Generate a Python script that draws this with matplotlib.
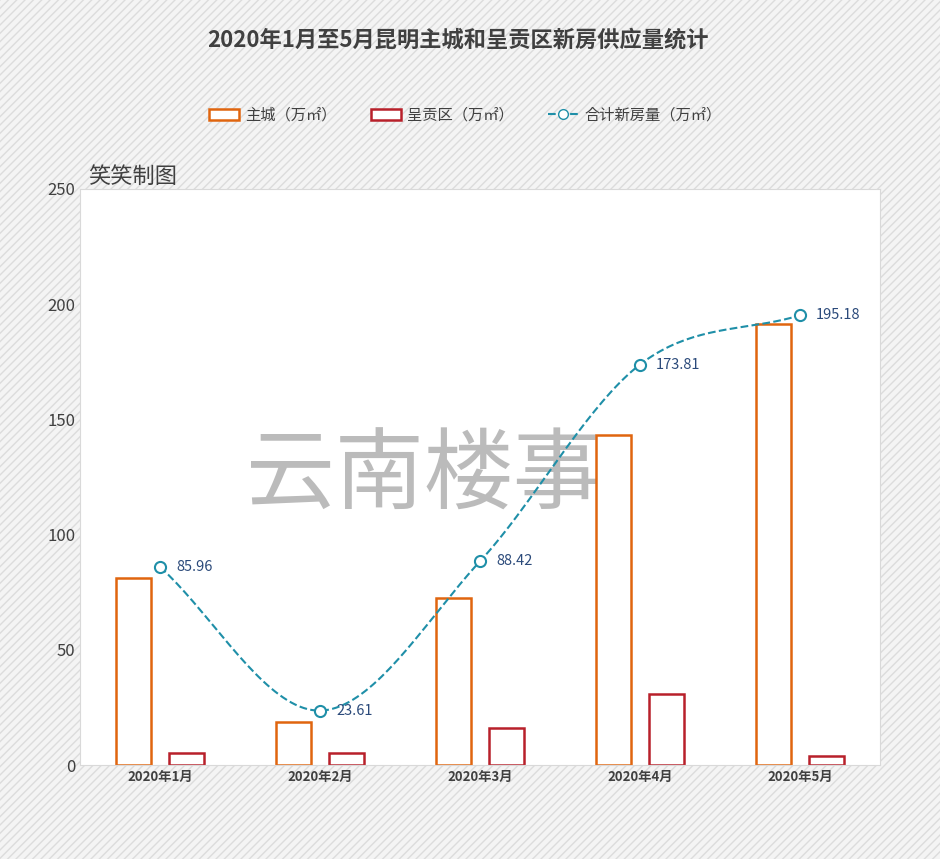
import numpy as np
import matplotlib
matplotlib.use("Agg")
import matplotlib.pyplot as plt
from matplotlib import font_manager as fm
from matplotlib.patches import Rectangle
from matplotlib.lines import Line2D

cjk = [f for f in fm.findSystemFonts() if 'CJK' in f or 'cjk' in f.lower()]
fam = None
for f in sorted(cjk):
    try:
        fm.fontManager.addfont(f)
        name = fm.FontProperties(fname=f).get_name()
        if fam is None or 'SC' in name:
            fam = name
    except Exception:
        pass
plt.rcParams['font.family'] = [fam or 'Noto Sans CJK SC', 'DejaVu Sans']

months = ["2020年1月", "2020年2月", "2020年3月", "2020年4月", "2020年5月"]
main_city = [81.2, 18.7, 72.4, 143.1, 191.3]
chenggong = [5.0, 5.1, 16.2, 31.0, 4.0]
total = [85.96, 23.61, 88.42, 173.81, 195.18]

fig = plt.figure(figsize=(9.4, 8.59), dpi=100)
fig.patch.set_facecolor('#f4f4f4')
bg = Rectangle((0, 0), 1, 1, transform=fig.transFigure, facecolor='#f4f4f4',
               edgecolor='#dcdcdc', hatch='////', lw=0, zorder=-10)
fig.patches.append(bg)

ax = fig.add_axes([80/940, (859-765)/859, 800/940, (765-189)/859])
ax.set_facecolor('white')
for s in ax.spines.values():
    s.set_color('#d9d9d9')
x = np.arange(len(months))
w = 0.22
ax.bar(x - 0.165, main_city, w, facecolor='white', edgecolor='#e0650f', lw=1.8, zorder=2)
ax.bar(x + 0.165, chenggong, w, facecolor='white', edgecolor='#b8202a', lw=1.8, zorder=2)

pts = np.array(list(zip(x, total)), dtype=float)
P = np.vstack([2*pts[0]-pts[1], pts, 2*pts[-1]-pts[-2]])
cx, cy = [], []
for i in range(1, len(P)-2):
    t = np.linspace(0, 1, 40)[:, None]
    p0, p1, p2, p3 = P[i-1], P[i], P[i+1], P[i+2]
    c = 0.5*((2*p1) + (-p0+p2)*t + (2*p0-5*p1+4*p2-p3)*t**2 + (-p0+3*p1-3*p2+p3)*t**3)
    cx.extend(c[:, 0]); cy.extend(c[:, 1])
ax.plot(cx, cy, ls='--', color='#1f8fa8', lw=1.5, zorder=3)
ax.plot(x, total, 'o', mfc='white', mec='#1f8fa8', mew=1.5, ms=8, zorder=4)
for xi, v in zip(x, total):
    ax.text(xi + 0.1, v, f"{v:.2f}", va='center', ha='left', fontsize=10.5, color='#2b4a7a', zorder=5)

ax.set_xlim(-0.5, 4.5)
ax.set_ylim(0, 250)
ax.set_yticks([0, 50, 100, 150, 200, 250])
ax.set_xticks(x)
ax.set_xticklabels(months, fontsize=9.5, fontweight='bold', color='#404040')
ax.tick_params(axis='y', length=0, labelsize=12, colors='#404040')
ax.tick_params(axis='x', length=0)

ax.text(0.43, 0.50, "云南楼事", transform=ax.transAxes, fontsize=64, color='#b0b0b0',
        ha='center', va='center', alpha=0.85, fontweight='normal', zorder=1)
fig.text(88/940, 1-176/859, "笑笑制图", fontsize=16, color='#404040', va='center')
fig.text(0.487, 1-40/859, "2020年1月至5月昆明主城和呈贡区新房供应量统计", fontsize=16,
         fontweight='bold', color='#404040', ha='center', va='center')

handles = [
    Rectangle((0, 0), 1, 1, facecolor='white', edgecolor='#e0650f', lw=1.8),
    Rectangle((0, 0), 1, 1, facecolor='white', edgecolor='#b8202a', lw=1.8),
    Line2D([], [], ls='--', color='#1f8fa8', marker='o', mfc='white', mec='#1f8fa8', ms=7),
]
fig.legend(handles, ["主城（万㎡）", "呈贡区（万㎡）", "合计新房量（万㎡）"], loc='center',
           bbox_to_anchor=(0.495, 1-115/859), ncol=3, frameon=False, fontsize=11,
           handlelength=2.0, handletextpad=0.4, columnspacing=2.2, labelcolor='#404040')

fig.savefig("out.png", dpi=100)
